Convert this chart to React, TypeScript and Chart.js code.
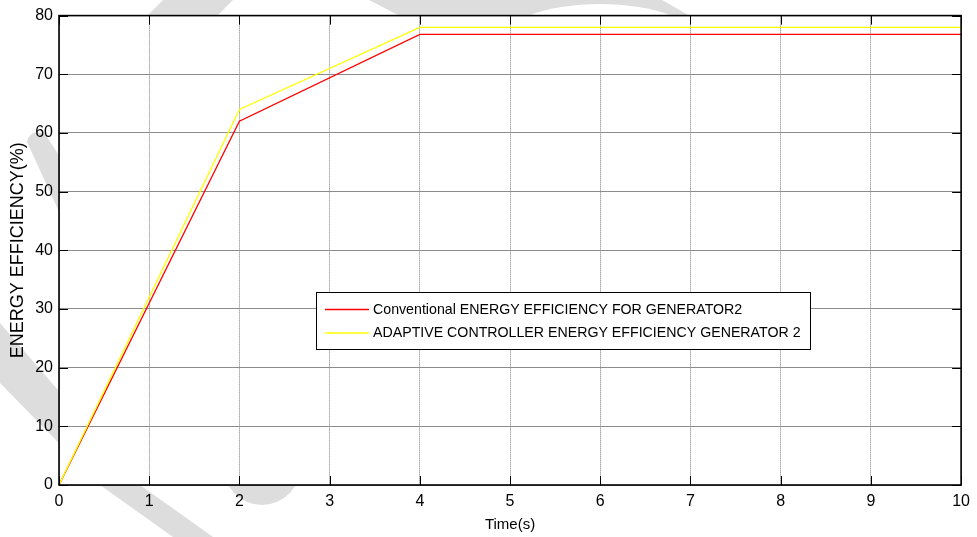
import React, { useEffect, useRef } from "react";
import { Chart, registerables } from "chart.js";

Chart.register(...registerables);

// ---- data ----
const timeS = [0, 2, 4, 10];
const conventional = [0, 62, 76.8, 76.8];
const adaptive = [0, 64, 78, 78];
const seriesLabels = [
  "Conventional ENERGY EFFICIENCY FOR GENERATOR2",
  "ADAPTIVE CONTROLLER ENERGY EFFICIENCY GENERATOR 2",
];
const seriesColors = ["#ff0000", "#ffff00"];
const xTitle = "Time(s)";
const yTitle = "ENERGY EFFICIENCY(%)";

const FONT = "'Liberation Sans', Arial, Helvetica, sans-serif";

// light grey watermark strokes visible in the figure margins of the reference
const watermarkPlugin = {
  id: "watermark",
  beforeDraw(chart: any) {
    const ctx = chart.ctx as CanvasRenderingContext2D;
    const ca = chart.chartArea;
    ctx.save();
    ctx.fillStyle = "#ffffff";
    ctx.fillRect(0, 0, chart.width, chart.height);
    ctx.fillStyle = "#dddddd";
    // top band
    ctx.beginPath();
    ctx.moveTo(163, 0);
    ctx.lineTo(233, 0);
    ctx.lineTo(200, 33);
    ctx.lineTo(130, 33);
    ctx.closePath();
    ctx.fill();
    // top arch region
    ctx.beginPath();
    ctx.moveTo(369, 0);
    ctx.lineTo(662, 0);
    ctx.lineTo(690, 16);
    ctx.lineTo(400, 16);
    ctx.closePath();
    ctx.fill();
    ctx.fillStyle = "#ffffff";
    ctx.beginPath();
    ctx.ellipse(600, 42, 100, 38, 0, 0, Math.PI * 2);
    ctx.fill();
    ctx.fillStyle = "#dddddd";
    // left short stroke
    ctx.beginPath();
    ctx.moveTo(27, 142);
    ctx.quadraticCurveTo(30, 128, 45, 134);
    ctx.lineTo(62, 160);
    ctx.lineTo(62, 218);
    ctx.closePath();
    ctx.fill();
    // long diagonal stroke
    ctx.beginPath();
    ctx.moveTo(0, 323);
    ctx.lineTo(140, 485);
    ctx.lineTo(213, 537);
    ctx.lineTo(173, 537);
    ctx.lineTo(100, 485);
    ctx.lineTo(0, 383);
    ctx.closePath();
    ctx.fill();
    // bottom curve
    ctx.beginPath();
    ctx.ellipse(262, 462, 40, 43, 0, 0, Math.PI * 2);
    ctx.fill();
    // plot area white
    ctx.fillStyle = "#ffffff";
    ctx.fillRect(ca.left, ca.top, ca.right - ca.left, ca.bottom - ca.top);
    ctx.restore();
  },
};

const framePlugin = {
  id: "frame",
  afterDatasetsDraw(chart: any) {
    const ctx = chart.ctx as CanvasRenderingContext2D;
    const ca = chart.chartArea;
    const xs = chart.scales.x;
    const ys = chart.scales.y;
    ctx.save();
    // inward tick marks
    ctx.strokeStyle = "#000";
    ctx.lineWidth = 1;
    const tl = 9;
    ctx.beginPath();
    xs.ticks.forEach((t: any) => {
      const px = Math.round(xs.getPixelForValue(t.value)) + 0.5;
      ctx.moveTo(px, ca.bottom);
      ctx.lineTo(px, ca.bottom - tl);
      ctx.moveTo(px, ca.top);
      ctx.lineTo(px, ca.top + tl);
    });
    ys.ticks.forEach((t: any) => {
      const py = Math.round(ys.getPixelForValue(t.value)) + 0.5;
      ctx.moveTo(ca.left, py);
      ctx.lineTo(ca.left + tl, py);
      ctx.moveTo(ca.right, py);
      ctx.lineTo(ca.right - tl, py);
    });
    ctx.stroke();
    // box
    ctx.lineWidth = 1.6;
    ctx.strokeRect(ca.left, ca.top, ca.right - ca.left, ca.bottom - ca.top);

    // legend
    const lx = 316.5, ly = 292.5, lw = 494, lh = 57;
    ctx.fillStyle = "#ffffff";
    ctx.fillRect(lx, ly, lw, lh);
    ctx.lineWidth = 1;
    ctx.strokeStyle = "#000";
    ctx.strokeRect(lx, ly, lw, lh);
    const rows = [309.5, 333];
    ctx.font = `14.2px ${FONT}`;
    ctx.textBaseline = "middle";
    ctx.textAlign = "left";
    seriesLabels.forEach((lab, i) => {
      ctx.strokeStyle = seriesColors[i];
      ctx.lineWidth = 1.3;
      ctx.beginPath();
      ctx.moveTo(325, rows[i]);
      ctx.lineTo(369, rows[i]);
      ctx.stroke();
      ctx.fillStyle = "#000";
      ctx.fillText(lab, 373, rows[i] + 0.5);
    });
    ctx.restore();
  },
};

export default function App() {
  const ref = useRef<HTMLCanvasElement>(null);
  useEffect(() => {
    const canvas = ref.current!;
    const chart = new Chart(canvas, {
      type: "line",
      data: {
        datasets: [
          {
            label: seriesLabels[1],
            data: timeS.map((t, i) => ({ x: t, y: adaptive[i] })),
            borderColor: seriesColors[1],
            backgroundColor: seriesColors[1],
            borderWidth: 1.3,
            pointRadius: 0,
            tension: 0,
            fill: false,
          },
          {
            label: seriesLabels[0],
            data: timeS.map((t, i) => ({ x: t, y: conventional[i] })),
            borderColor: seriesColors[0],
            backgroundColor: seriesColors[0],
            borderWidth: 1.3,
            pointRadius: 0,
            tension: 0,
            fill: false,
          },
        ],
      },
      options: {
        responsive: false,
        animation: false,
        devicePixelRatio: 1,
        layout: { padding: { top: 15, right: 12, left: 0, bottom: 0 } },
        plugins: {
          legend: { display: false },
          tooltip: { enabled: false },
        },
        scales: {
          x: {
            type: "linear",
            min: 0,
            max: 10,
            ticks: {
              stepSize: 1,
              padding: 7,
              color: "#000",
              maxRotation: 0,
              font: { size: 16, family: FONT },
            },
            grid: { color: "#7a7a7a", lineWidth: 1, drawTicks: false },
            border: { display: false, dash: [1, 1] },
            title: {
              display: true,
              text: xTitle,
              color: "#000",
              font: { size: 15, family: FONT },
              padding: { top: 0, bottom: 3 },
            },
            afterFit(s: any) {
              s.height = 52;
            },
          },
          y: {
            type: "linear",
            min: 0,
            max: 80,
            ticks: {
              stepSize: 10,
              padding: 6,
              color: "#000",
              font: { size: 16, family: FONT },
            },
            grid: { color: "#8c8c8c", lineWidth: 1, drawTicks: false },
            border: { display: false },
            title: {
              display: true,
              text: yTitle,
              color: "#000",
              font: { size: 18, family: FONT },
              padding: { top: 7.5, bottom: 0 },
            },
            afterFit(s: any) {
              s.width = 59;
            },
          },
        },
      },
      plugins: [watermarkPlugin, framePlugin],
    } as any);
    return () => chart.destroy();
  }, []);
  return (
    <div style={{ position: "fixed", left: 0, top: 0, width: 977, height: 537, background: "#fff" }}>
      <canvas ref={ref} width={977} height={537} style={{ display: "block", width: 977, height: 537 }} />
    </div>
  );
}
